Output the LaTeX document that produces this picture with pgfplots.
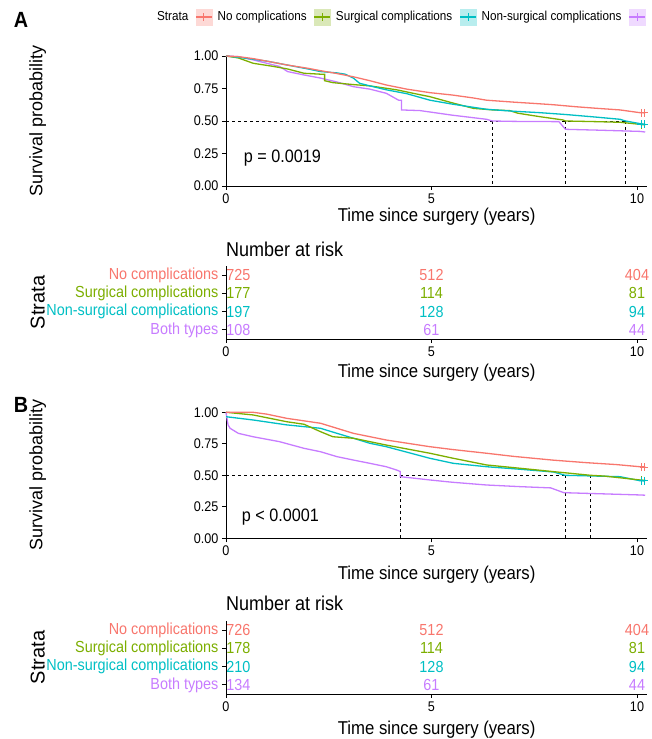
\documentclass[border=0pt]{standalone}
\usepackage{fontspec}
\setmainfont{Liberation Sans}[FakeStretch=0.9]
\newfontfamily\rotfont{Liberation Sans}
\usepackage{pgfplots}
\pgfplotsset{compat=1.18}
\definecolor{cR}{HTML}{F8766D}
\definecolor{cG}{HTML}{7CAE00}
\definecolor{cC}{HTML}{00BFC4}
\definecolor{cP}{HTML}{C77CFF}
\newcommand{\fs}[1]{\fontsize{#1}{#1}\selectfont}
\pgfplotsset{
 kmbase/.style={
  x=41.1pt, xmin=0, xmax=10.25,
  axis x line*=bottom, axis y line*=left,
  axis line style={black, line width=0.8pt, -},
  tick align=outside, major tick length=4pt,
  tick style={black, line width=0.8pt},
  xtick={0,5,10},
  tick label style={font=\fs{14}},
  /pgf/number format/assume math mode=true,
  clip=false, anchor=south west,
 },
 kmmain/.style={kmbase, ymin=0, ymax=1, ytick={0,0.25,0.5,0.75,1},
  yticklabel style={/pgf/number format/.cd, fixed, fixed zerofill, precision=2},
  ylabel={\rotfont\fs{18}Survival probability},
  ylabel style={at={(axis description cs:-0.447,0.5)}, anchor=center},
  xlabel={Time since surgery (years)},
  xlabel style={font=\fs{18.6}, anchor=center},
 },
 kmrisk/.style={kmbase, y=18.25pt, ymin=0.5, ymax=4.5, ytick={1,2,3,4},
  yticklabels={\textcolor{cP}{Both types},\textcolor{cC}{Non-surgical complications},\textcolor{cG}{Surgical complications},\textcolor{cR}{No complications}},
  yticklabel style={font=\fs{16}},
  ylabel={\rotfont\fs{20}Strata},
  ylabel style={at={(axis description cs:-0.447,0.5)}, anchor=center},
  xlabel={Time since surgery (years)},
  xlabel style={font=\fs{18.6}, anchor=center},
  title={Number at risk}, title style={font=\fs{20}, anchor=west, inner sep=0pt},
 },
 curve/.style={line width=1.3pt, sharp plot},
 med/.style={black, line width=0.8pt, dash pattern=on 3pt off 3pt},
 cens/.style={only marks, mark=+, mark size=4pt, line width=1pt},
 risknum/.style={draw=none, mark=none, nodes near coords, point meta=explicit symbolic,
   every node near coord/.style={anchor=center, text=#1, font=\fs{16}}},
}
\begin{document}
\begin{tikzpicture}
\path[use as bounding box] (0,0) rectangle (652pt,739pt);
\node[font=\bfseries\fs{22}] at (21pt,719pt) {A};
\node[font=\bfseries\fs{22}] at (21pt,334pt) {B};

% ---------- Panel A: survival curves ----------
\begin{axis}[kmmain, y=130pt, at={(226pt,553pt)},
  xlabel style={at={(axis description cs:0.5,-0.235)}},
  legend columns=-1,
  legend style={at={(axis description cs:-0.176,1.3)}, anchor=west, draw=none, fill=none,
    inner sep=0pt, font=\fs{13},
    /tikz/every odd column/.append style={column sep=3pt},
    /tikz/every even column/.append style={column sep=5pt}},
  ]
\addlegendimage{empty legend}
\addlegendentry{Strata}
\addlegendimage{legend image code/.code={\fill[cR!28] (0pt,-8pt) rectangle (16pt,8pt);
  \draw[cR,line width=1.3pt] (0pt,0pt)--(16pt,0pt); \draw[cR,line width=1pt] (8pt,-4pt)--(8pt,4pt);}}
\addlegendentry{No complications}
\addlegendimage{legend image code/.code={\fill[cG!28] (0pt,-8pt) rectangle (16pt,8pt);
  \draw[cG,line width=1.3pt] (0pt,0pt)--(16pt,0pt); \draw[cG,line width=1pt] (8pt,-4pt)--(8pt,4pt);}}
\addlegendentry{Surgical complications}
\addlegendimage{legend image code/.code={\fill[cC!28] (0pt,-8pt) rectangle (16pt,8pt);
  \draw[cC,line width=1.3pt] (0pt,0pt)--(16pt,0pt); \draw[cC,line width=1pt] (8pt,-4pt)--(8pt,4pt);}}
\addlegendentry{Non-surgical complications}
\addlegendimage{legend image code/.code={\fill[cP!28] (0pt,-8pt) rectangle (16pt,8pt);
  \draw[cP,line width=1.3pt] (0pt,0pt)--(16pt,0pt); \draw[cP,line width=1pt] (8pt,-4pt)--(8pt,4pt);}}
\addlegendentry{}

\addplot[med, forget plot] coordinates {(0,0.5) (9.72,0.5)};
\addplot[med, forget plot] coordinates {(6.48,0.5) (6.48,0)};
\addplot[med, forget plot] coordinates {(8.26,0.5) (8.26,0)};
\addplot[med, forget plot] coordinates {(9.72,0.5) (9.72,0)};

\addplot[curve, cP, forget plot] coordinates {(0,1)(0.3,0.995)(0.66,0.97)(1.3,0.92)(1.5,0.88)(1.9,0.854)(2.3,0.83)(2.7,0.80)(3.1,0.764)(3.5,0.745)(3.9,0.713)(4.2,0.66)(4.27,0.66)(4.27,0.585)(4.72,0.58)(5.5,0.545)(6.34,0.513)(6.48,0.5)(7,0.497)(8.1,0.495)(8.26,0.436)(9,0.43)(10.07,0.42)(10.2,0.415)};
\addplot[curve, cG, forget plot] coordinates {(0,1)(0.3,0.985)(0.66,0.944)(1.15,0.92)(1.5,0.9)(1.9,0.867)(2.3,0.86)(2.4,0.86)(2.4,0.81)(2.6,0.795)(3.1,0.78)(3.5,0.77)(4.15,0.74)(4.6,0.71)(4.96,0.687)(5.5,0.64)(6.02,0.597)(6.5,0.585)(6.9,0.58)(7.1,0.56)(7.64,0.533)(8.2,0.508)(8.26,0.5)(9,0.495)(9.6,0.49)(10.2,0.47)};
\addplot[curve, cC, forget plot] coordinates {(0,1)(0.3,0.99)(0.66,0.975)(1,0.96)(1.5,0.93)(2,0.9)(2.3,0.88)(2.7,0.87)(2.9,0.86)(3.1,0.83)(3.25,0.79)(3.5,0.77)(3.9,0.74)(4.4,0.71)(4.96,0.66)(5.5,0.63)(6.34,0.59)(7,0.575)(7.64,0.564)(8.26,0.55)(9,0.53)(9.59,0.513)(9.72,0.5)(10.07,0.48)(10.2,0.475)};
\addplot[curve, cR, forget plot] coordinates {(0,1)(0.3,0.995)(0.66,0.98)(1,0.96)(1.5,0.93)(2,0.905)(2.3,0.887)(2.7,0.865)(3.1,0.84)(3.5,0.81)(3.9,0.777)(4.4,0.745)(4.96,0.718)(5.5,0.70)(6,0.678)(6.34,0.66)(7,0.645)(7.5,0.635)(7.97,0.625)(8.5,0.61)(9,0.598)(9.59,0.585)(10.07,0.564)(10.2,0.562)};
\addplot[cens, cR, forget plot] coordinates {(10.1,0.563)(10.18,0.562)};
\addplot[cens, cG, forget plot] coordinates {(10.12,0.47)};
\addplot[cens, cC, forget plot] coordinates {(10.1,0.476)(10.18,0.474)};
\node[anchor=west, font=\fs{18}] at (axis cs:0.35,0.215) {p = 0.0019};
\end{axis}

% ---------- Panel A: risk table ----------
\begin{axis}[kmrisk, at={(226pt,400pt)},
  title style={at={(axis description cs:0,1.14)}},
  xlabel style={at={(axis description cs:0.5,-0.466)}}]
\addplot[risknum=cR] coordinates {(0.3,4)[725] (5,4)[512] (10,4)[404]};
\addplot[risknum=cG] coordinates {(0.3,3)[177] (5,3)[114] (10,3)[81]};
\addplot[risknum=cC] coordinates {(0.3,2)[197] (5,2)[128] (10,2)[94]};
\addplot[risknum=cP] coordinates {(0.3,1)[108] (5,1)[61] (10,1)[44]};
\end{axis}

% ---------- Panel B: survival curves ----------
\begin{axis}[kmmain, y=126pt, at={(226pt,200.7pt)},
  xlabel style={at={(axis description cs:0.5,-0.29)}}]
\addplot[med] coordinates {(0,0.5) (8.87,0.5)};
\addplot[med] coordinates {(4.24,0.5) (4.24,0)};
\addplot[med] coordinates {(8.25,0.5) (8.25,0)};
\addplot[med] coordinates {(8.87,0.5) (8.87,0)};

\addplot[curve, cP] coordinates {(0,1)(0.05,0.9)(0.1,0.873)(0.3,0.833)(0.66,0.806)(1.3,0.767)(1.9,0.714)(2.3,0.687)(2.7,0.648)(3.1,0.621)(3.5,0.595)(3.9,0.568)(4.15,0.542)(4.24,0.53)(4.24,0.489)(4.96,0.463)(5.5,0.445)(6.34,0.423)(7.15,0.41)(7.9,0.40)(8.22,0.362)(10.07,0.344)(10.2,0.342)};
\addplot[curve, cC] coordinates {(0,0.965)(0.66,0.939)(1.48,0.9)(2.3,0.873)(2.7,0.833)(3.1,0.794)(3.5,0.754)(3.9,0.727)(4.96,0.635)(5.53,0.595)(6.34,0.568)(7.15,0.548)(7.97,0.526)(8.25,0.5)(9.59,0.489)(10.07,0.457)(10.2,0.455)};
\addplot[curve, cG] coordinates {(0,1)(0.66,0.979)(1.48,0.925)(1.9,0.905)(2.3,0.846)(2.6,0.806)(3.1,0.794)(3.5,0.767)(3.9,0.74)(4.96,0.675)(5.53,0.635)(6.34,0.582)(7.15,0.556)(7.97,0.529)(8.87,0.5)(9.2,0.494)(10.07,0.463)(10.2,0.46)};
\addplot[curve, cR] coordinates {(0,1)(0.66,1.0)(1,0.985)(1.48,0.952)(2.3,0.913)(2.7,0.873)(3.1,0.833)(3.9,0.78)(4.96,0.727)(5.5,0.705)(6.34,0.675)(7,0.65)(7.97,0.62)(8.78,0.6)(9.5,0.585)(10.07,0.568)(10.2,0.565)};
\addplot[cens, cR] coordinates {(10.1,0.567)(10.18,0.565)};
\addplot[cens, cG] coordinates {(10.12,0.46)};
\addplot[cens, cC] coordinates {(10.1,0.457)(10.18,0.455)};
\node[anchor=west, font=\fs{18}] at (axis cs:0.3,0.17) {p < 0.0001};
\end{axis}

% ---------- Panel B: risk table ----------
\begin{axis}[kmrisk, at={(226pt,45pt)},
  title style={at={(axis description cs:0,1.165)}},
  xlabel style={at={(axis description cs:0.5,-0.493)}}]
\addplot[risknum=cR] coordinates {(0.3,4)[726] (5,4)[512] (10,4)[404]};
\addplot[risknum=cG] coordinates {(0.3,3)[178] (5,3)[114] (10,3)[81]};
\addplot[risknum=cC] coordinates {(0.3,2)[210] (5,2)[128] (10,2)[94]};
\addplot[risknum=cP] coordinates {(0.3,1)[134] (5,1)[61] (10,1)[44]};
\end{axis}
\end{tikzpicture}
\end{document}
